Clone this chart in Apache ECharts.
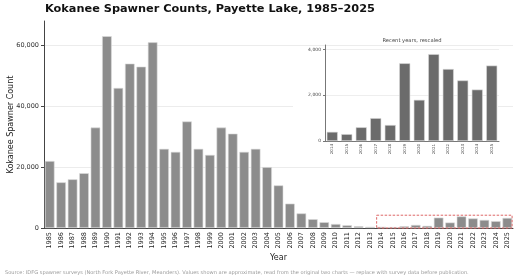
<!DOCTYPE html>
<html>
<head>
<meta charset="utf-8">
<script src="https://cdn.jsdelivr.net/npm/echarts@6/dist/echarts.min.js"></script>
<style>
  html, body { margin: 0; padding: 0; background: #fff; }
  #chart { width: 518px; height: 280px; }
</style>
</head>
<body>
<div id="chart"></div>
<script>
/* data */
let years = [];
for (let y = 1985; y <= 2025; y++) years.push(String(y));
let counts = [22000,15000,16000,18000,33000,63000,46000,54000,53000,61000,
              26000,25000,35000,26000,24000,33000,31000,25000,26000,20000,
              14000,8000,4800,2900,1900,1300,900,600,400,
              400,300,600,1000,700,3400,1800,3800,3150,2650,2250,3300];
let recentYears = years.slice(29);
let recentCounts = counts.slice(29);
let highlight = [[29, 40, 4200]];   // 2014..2025 box in the main chart

let font = "DejaVu Sans";
let chart = echarts.init(document.getElementById("chart"), null, {renderer: "canvas"});

let option = {
    animation: false,
    textStyle: {fontFamily: font},
    title: [
        {
            text: "Kokanee Spawner Counts, Payette Lake, 1985–2025",
            left: 45, top: 4, padding: 0,
            textStyle: {fontSize: 11.3, fontWeight: "bold", color: "#111", fontFamily: font}
        },
        {
            text: "Recent years, rescaled",
            left: 412, top: 38, padding: 0, textAlign: "center",
            textStyle: {fontSize: 5.2, fontWeight: "normal", color: "#444", fontFamily: font}
        },
        {
            text: "Source: IDFG spawner surveys (North Fork Payette River, Meanders). Values shown are approximate, read from the original two charts — replace with survey data before publication.",
            left: 5, top: 270, padding: 0,
            textStyle: {fontSize: 5.1, fontWeight: "normal", color: "#999", fontFamily: font}
        }
    ],
    graphic: [{
        type: "rect", z: 1,
        shape: {x: 293, y: 46, width: 205, height: 119},
        style: {fill: "#fff"}
    }],
    grid: [
        {left: 44, right: 5, top: 21, bottom: 52, outerBoundsMode: "none"},
        {left: 325, right: 19, top: 45, bottom: 139, outerBoundsMode: "none"}
    ],
    xAxis: [
        {
            type: "category", gridIndex: 0, data: years,
            name: "Year", nameLocation: "middle", nameGap: 26, nameMoveOverlap: false,
            nameTextStyle: {fontSize: 8, color: "#222"},
            axisLine: {lineStyle: {color: "#444"}},
            axisTick: {alignWithLabel: true, length: 3, lineStyle: {color: "#444"}},
            axisLabel: {rotate: 90, interval: 0, fontSize: 6.5, color: "#222", margin: 4}
        },
        {
            type: "category", gridIndex: 1, data: recentYears, z: 5,
            axisLine: {lineStyle: {color: "#777"}},
            axisTick: {alignWithLabel: true, length: 2, lineStyle: {color: "#777"}},
            axisLabel: {rotate: 90, interval: 0, fontSize: 4, color: "#444", margin: 3}
        }
    ],
    yAxis: [
        {
            type: "value", gridIndex: 0, min: 0, max: 68000, interval: 20000,
            name: "Kokanee Spawner Count", nameLocation: "middle", nameGap: 29, nameMoveOverlap: false,
            nameTextStyle: {fontSize: 8, color: "#222"},
            axisLine: {show: true, lineStyle: {color: "#444"}},
            axisTick: {show: true, length: 3, lineStyle: {color: "#444"}},
            axisLabel: {fontSize: 6.5, color: "#333", margin: 5, showMaxLabel: false,
                formatter: v => v.toLocaleString("en-US")},
            splitLine: {lineStyle: {color: "#ececec", width: 1}, showMaxLine: false}
        },
        {
            type: "value", gridIndex: 1, min: 0, max: 4200, interval: 2000, z: 5,
            axisLine: {show: true, lineStyle: {color: "#777"}},
            axisTick: {show: true, length: 2, lineStyle: {color: "#777"}},
            axisLabel: {fontSize: 4.5, color: "#444", margin: 4, showMaxLabel: false,
                formatter: v => v.toLocaleString("en-US")},
            splitLine: {lineStyle: {color: "#eeeeee", width: 1}, showMaxLine: false}
        }
    ],
    series: [
        {
            type: "bar", xAxisIndex: 0, yAxisIndex: 0, data: counts,
            barCategoryGap: "16%", z: 2,
            itemStyle: {color: "#8c8c8c", borderColor: "#dcdcdc", borderWidth: 0.6}
        },
        {
            type: "custom", xAxisIndex: 0, yAxisIndex: 0, data: highlight, z: 3,
            encode: {x: [0, 1], y: 2},
            renderItem(params, api) {
                let p0 = api.coord([api.value(0), 0]);
                let p1 = api.coord([api.value(1), api.value(2)]);
                let bw = api.size([1, 0])[0];
                return {
                    type: "rect",
                    shape: {x: p0[0] - bw * 0.42, y: p1[1], width: p1[0] - p0[0] + bw * 0.84, height: p0[1] - p1[1]},
                    style: {fill: "none", stroke: "#dd6666", lineWidth: 1, lineDash: [2.5, 1.5]}
                };
            }
        },
        {
            type: "bar", xAxisIndex: 1, yAxisIndex: 1, data: recentCounts,
            barCategoryGap: "24%", z: 6,
            itemStyle: {color: "#6b6b6b", borderColor: "#d8d8d8", borderWidth: 0.6}
        }
    ]
};
chart.setOption(option);
</script>
</body>
</html>
